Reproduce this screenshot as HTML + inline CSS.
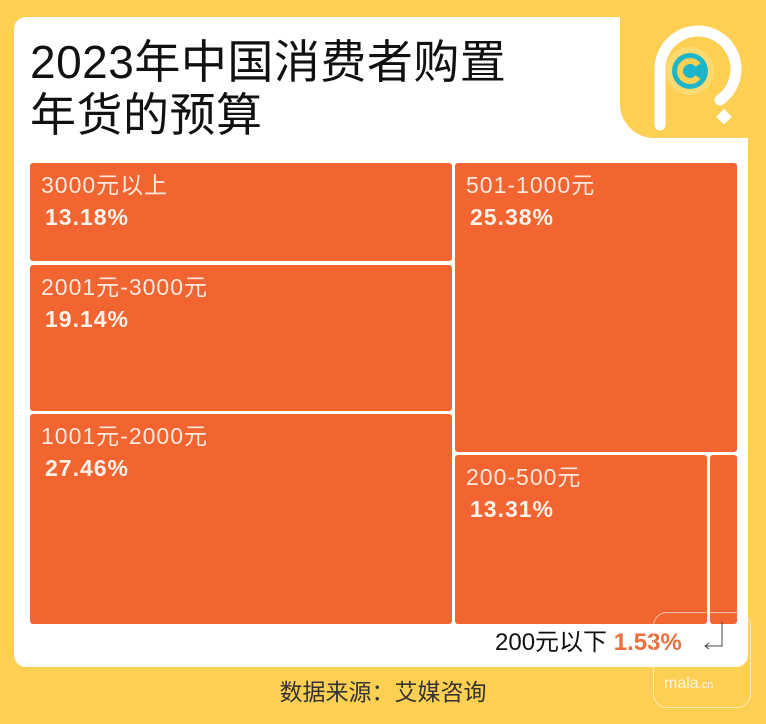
<!DOCTYPE html>
<html><head><meta charset="utf-8"><style>
*{margin:0;padding:0}
body{width:766px;height:724px;background:#FDCF52;position:relative;overflow:hidden;font-family:"Liberation Sans","Noto Sans CJK SC",sans-serif}
.card{position:absolute;left:14px;top:17px;width:734px;height:650px;background:#fff;border-radius:12px}
.notch{position:absolute;left:620px;top:0;width:146px;height:138px;background:#FDCF52;border-bottom-left-radius:34px}
.t{position:absolute;left:30px;font-size:46px;color:#111;line-height:1;letter-spacing:0.5px}
.tile{position:absolute;background:#F26430;border-radius:3px;color:#fbe9df}
.tile .l{position:absolute;left:11px;top:11px;font-size:23px;line-height:1;letter-spacing:1px}
.tile .p{position:absolute;left:15px;top:43px;font-size:23px;font-weight:bold;line-height:1;color:#fff3ec;letter-spacing:1px}
</style></head><body>
<div class="card"></div>
<div class="notch"></div>
<svg style="position:absolute;left:620px;top:0" width="146" height="140">
<path d="M40 125 V70 A38 38 0 1 1 100 100" fill="none" stroke="#fff" stroke-width="11" stroke-linecap="round"/>
<circle cx="70" cy="71" r="24" fill="#FDDB72"/>
<circle cx="70" cy="71" r="18" fill="#1FB5C8"/>
<path d="M78 65 A10 10 0 1 0 78 77" fill="none" stroke="#FDCF52" stroke-width="6"/>
<rect x="99" y="111" width="11" height="11" fill="#fff" transform="rotate(45 104 116)"/>
</svg>
<div class="t" style="top:39px">2023年中国消费者购置</div>
<div class="t" style="top:92px">年货的预算</div>
<div class="tile" style="left:30px;top:163px;width:422px;height:98px"><div class="l">3000元以上</div><div class="p">13.18%</div></div>
<div class="tile" style="left:30px;top:265px;width:422px;height:146px"><div class="l">2001元-3000元</div><div class="p">19.14%</div></div>
<div class="tile" style="left:30px;top:414px;width:422px;height:210px"><div class="l">1001元-2000元</div><div class="p">27.46%</div></div>
<div class="tile" style="left:455px;top:163px;width:282px;height:289px"><div class="l">501-1000元</div><div class="p">25.38%</div></div>
<div class="tile" style="left:455px;top:455px;width:252px;height:169px"><div class="l">200-500元</div><div class="p">13.31%</div></div>
<div class="tile" style="left:710px;top:455px;width:27px;height:169px"></div>
<div style="position:absolute;left:495px;top:631px;font-size:24px;color:#111;line-height:1">200元以下 <b style="color:#E8703E">1.53%</b></div>
<svg style="position:absolute;left:700px;top:620px" width="30" height="40"><path d="M22 2 V26 H6 M9 23 L5 26 L9 29" fill="none" stroke="#444" stroke-width="1"/></svg>
<div style="position:absolute;left:0;width:766px;top:681px;text-align:center;font-size:23px;color:#333;line-height:1">数据来源：艾媒咨询</div>
<div style="position:absolute;left:653px;top:612px;width:96px;height:94px;border:1.5px solid rgba(255,255,255,.6);border-radius:14px"></div>
<div style="position:absolute;left:664px;top:675px;font-size:16px;color:rgba(255,255,255,.8)">mala<span style="font-size:11px">.cn</span></div>
</body></html>
